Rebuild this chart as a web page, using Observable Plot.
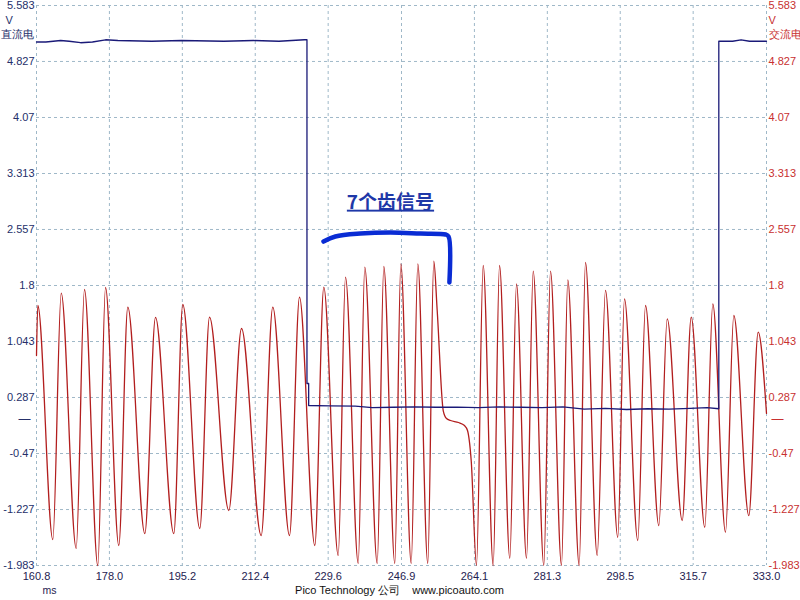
<!DOCTYPE html>
<html>
<head>
<meta charset="utf-8">
<script src="https://cdn.jsdelivr.net/npm/d3@7"></script>
<script src="https://cdn.jsdelivr.net/npm/@observablehq/plot@0.6"></script>
<style>
  html, body { margin: 0; padding: 0; background: #fff; }
  #chart svg { display: block; }
</style>
</head>
<body>
<div id="chart"></div>
<script>
// ---- Axis tick labels ----
const xTickLabels = ["160.8","178.0","195.2","212.4","229.6","246.9","264.1","281.3","298.5","315.7","333.0"];
const yTickLabels = ["5.583","4.827","4.07","3.313","2.557","1.8","1.043","0.287","-0.47","-1.227","-1.983"];

// ---- AC signal (交流电, red): time ms / volts ----
const acTime = [160.80,161.11,164.65,166.63,170.16,172.12,175.26,177.08,180.21,182.34,186.35,188.87,193.19,195.31,199.32,201.61,
  206.16,209.16,213.80,216.54,220.48,222.84,226.45,228.57,231.97,233.69,236.69,238.24,241.17,242.73,245.32,246.74,
  249.19,250.75,253.10,254.52,255.32,256.74,257.52,258.46,260.35,261.76,262.47,263.34,264.59,
  266.17,268.53,270.02,272.45,274.03,276.39,277.97,280.47,282.05,284.64,286.13,288.82,290.30,
  293.06,295.02,297.92,299.50,302.64,304.46,307.60,309.58,313.12,315.24,318.45,320.33,323.33,325.29,328.83,331.04,333.00];
const acVolt = [0.854,1.530,-1.632,1.696,-1.753,1.746,-1.983,1.773,-1.713,1.507,-1.551,1.368,-1.551,1.543,-1.483,1.372,
  -1.240,1.219,-1.578,1.507,-1.578,1.642,-1.713,1.777,-1.848,1.912,-1.956,2.047,-1.956,2.057,-1.956,2.093,
  -1.956,2.093,-1.956,2.128,1.462,0.111,0.003,-0.024,-0.051,-0.092,-0.159,-0.564,-1.983,
  2.070,-1.983,2.070,-1.888,1.823,-1.888,1.993,-1.983,1.993,-1.983,1.877,-1.983,2.111,
  -1.848,1.733,-1.601,1.620,-1.645,1.530,-1.443,1.350,-1.375,1.372,-1.466,1.553,-1.533,1.395,-1.308,1.169,0.071];

// ---- DC signal (直流电, navy): time ms / volts ----
const dcTime = [160.8,163.0,166.5,168.5,171.2,174.0,177.1,180.0,188.0,195.0,205.0,212.0,218.0,224.0,224.6,224.6,225.0,225.0,
  230,236,240,245,250,255,260,265,270,275,280,285,290,295,300,305,310,315,319,321.75,321.75,325,327,329,333];
const dcVolt = [5.09,5.09,5.11,5.10,5.08,5.09,5.12,5.11,5.10,5.11,5.10,5.11,5.10,5.12,5.12,0.476,0.476,0.179,
  0.175,0.170,0.150,0.155,0.160,0.155,0.158,0.150,0.160,0.155,0.150,0.160,0.130,0.140,0.125,0.135,0.130,0.140,0.150,0.135,5.10,5.10,5.12,5.10,5.10];

// ---- Hand-drawn annotation bracket ----
const bracketTime = [228.5,231.3,237.2,244.3,251.4,257.3,258.0,258.2];
const bracketVolt = [2.394,2.462,2.502,2.516,2.502,2.489,2.462,1.841];
const noteText = "7个齿信号";
const noteTime = 244.3, noteVolt = 2.92;

const xTicks = xTickLabels.map(Number);
const yTicks = yTickLabels.map(Number);
const ac = acTime.map((t, i) => ({t, v: acVolt[i]}));
const dc = dcTime.map((t, i) => ({t, v: dcVolt[i]}));
const bracket = bracketTime.map((t, i) => ({t, v: bracketVolt[i]}));

const navy = "#1a1a78";
const red = "#b21e1e";
const font = "'Liberation Sans', Arial, sans-serif";

const chart = Plot.plot({
  width: 800,
  height: 600,
  marginLeft: 36,
  marginRight: 34,
  marginTop: 5,
  marginBottom: 35,
  style: {fontFamily: font, fontSize: "11px", background: "#fff"},
  x: {domain: [160.8, 333.0]},
  y: {domain: [-1.983, 5.583]},
  marks: [
    Plot.gridX(xTicks, {stroke: "#9fb8c8", strokeOpacity: 1, strokeDasharray: "3,3"}),
    Plot.gridY(yTicks, {stroke: "#9fb8c8", strokeOpacity: 1, strokeDasharray: "3,3"}),
    Plot.axisY(yTicks, {anchor: "left", tickSize: 0, tickPadding: 2, fill: "#25306a", label: null,
      tickFormat: d => yTickLabels[yTicks.indexOf(d)]}),
    Plot.axisY(yTicks, {anchor: "right", tickSize: 0, tickPadding: 2, fill: "#c83030", label: null,
      tickFormat: d => yTickLabels[yTicks.indexOf(d)]}),
    Plot.axisX(xTicks, {anchor: "bottom", tickSize: 0, tickPadding: 7, fill: "#1e2250", label: null,
      tickFormat: d => xTickLabels[xTicks.indexOf(d)]}),
    // unit labels
    Plot.text(["V"], {frameAnchor: "top-left", dx: -31, dy: 11, textAnchor: "start", fill: "#25306a", fontSize: 11}),
    Plot.text(["直流电"], {frameAnchor: "top-left", dx: -36, dy: 25, textAnchor: "start", fill: "#25306a", fontSize: 11}),
    Plot.text(["V"], {frameAnchor: "top-right", dx: 2, dy: 11, textAnchor: "start", fill: "#c83030", fontSize: 11}),
    Plot.text(["交流电"], {frameAnchor: "top-right", dx: 2, dy: 25, textAnchor: "start", fill: "#c83030", fontSize: 11}),
    // zero markers
    Plot.text([0], {y: d => d, text: () => "—", frameAnchor: "left", dx: -18, fill: "#25306a", fontSize: 12}),
    Plot.text([0], {y: d => d, text: () => "—", frameAnchor: "right", dx: 17, fill: "#c83030", fontSize: 12}),
    // footer
    Plot.text(["ms"], {frameAnchor: "bottom-left", dx: 6, dy: 28, fill: "#1e2250", fontSize: 10.5}),
    Plot.text(["Pico Technology 公司    www.picoauto.com"], {frameAnchor: "bottom", dx: -2, dy: 28, fill: "#111", fontSize: 11}),
    // signals
    Plot.line(ac, {x: "t", y: "v", stroke: red, strokeWidth: 1.3, curve: "monotone-x"}),
    Plot.line(dc, {x: "t", y: "v", stroke: navy, strokeWidth: 1.3}),
    // annotation
    Plot.line(bracket, {x: "t", y: "v", stroke: "#0a2cd4", strokeWidth: 4.5, strokeLinecap: "round", strokeLinejoin: "round", curve: "catmull-rom"}),
    Plot.text([noteText], {x: () => noteTime, y: () => noteVolt, fill: "#1e38a8", fontSize: 19, fontWeight: "bold",
      fontFamily: "'Noto Sans CJK SC', sans-serif"})
  ]
});
d3.select(chart).selectAll("text").filter(function() { return this.textContent === noteText; })
  .attr("text-decoration", "underline");
document.getElementById("chart").appendChild(chart);
</script>
</body>
</html>
